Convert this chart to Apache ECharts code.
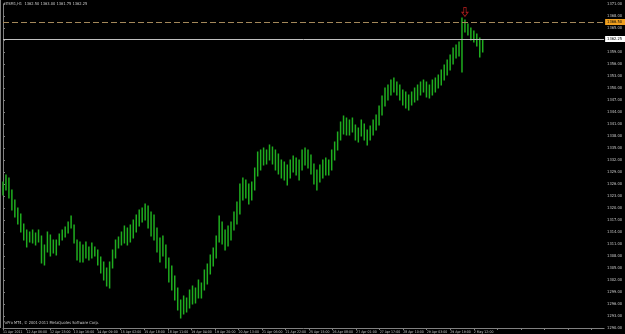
<!DOCTYPE html>
<html>
<head>
<meta charset="utf-8">
<script src="https://cdn.jsdelivr.net/npm/echarts@6/dist/echarts.min.js"></script>
<style>
html,body{margin:0;padding:0;background:#000;}
#c{width:625px;height:334px;}
</style>
</head>
<body>
<div id="c"></div>
<script>
// ---- data ----
const symbolTitle = "#ESM1,H1  1362.50 1363.00 1361.75 1362.25";
const copyrightText = "FxPro MT4, \u00A9 2001-2011 MetaQuotes Software Corp.";

const barHigh = [
  1326.5,1328.25,1327.5,1324.5,1322,1320,1318.5,1316,1314.5,1314,
  1314.5,1313.75,1314.5,1313,1310.75,1314,1313.25,1312,1312,1313.5,
  1314.5,1315.25,1316.5,1318,1315.75,1312,1311.5,1310.75,1311.5,1310.25,
  1311.25,1310.25,1309.5,1307.75,1306.5,1305,1306.5,1309.5,1312,1312.75,
  1314,1315.5,1315,1315.75,1317,1318.25,1319.5,1320,1321,1320.5,
  1319,1318.25,1315,1312.5,1313,1310.75,1307.5,1305.5,1303,1300,
  1297,1298,1297.5,1299.5,1300.5,1300,1302,1301.25,1304.5,1306,
  1308.25,1310,1313,1318,1316.5,1314.5,1315.5,1316.5,1319,1321.5,
  1326,1327.5,1327,1326,1326.5,1330,1334,1334.5,1335,1334.5,
  1335.75,1335.25,1334.5,1333.5,1332,1331.5,1330.75,1332,1333,1332.5,
  1332,1334.5,1335,1334.5,1333.25,1331,1329.5,1330.75,1332,1332.5,
  1332,1334.5,1336.5,1339,1341.5,1343,1342.5,1342,1342.5,1340.75,
  1340,1342,1341,1339.5,1340.5,1342,1343.25,1345.5,1348,1350,
  1350.75,1352,1352.5,1351.5,1350.75,1349.5,1349,1348.25,1349,1350,
  1350.75,1351.5,1352,1351.5,1350.75,1352,1352.5,1353.25,1354.5,1355.75,
  1357,1358.25,1360,1360.75,1361.5,1367.5,1367,1366,1365,1364.25,
  1363.5,1362.5,1362
];
const barLow = [
  1323.25,1324.5,1322.5,1319.5,1317.75,1316,1314,1312,1310.25,1311.5,
  1311.25,1310.75,1311.5,1306.25,1305.75,1309,1308,1308.75,1308.25,1310.75,
  1312,1312.75,1313.75,1315,1311.25,1307,1306.5,1306.5,1307.5,1307,
  1307.5,1308,1305.75,1303.75,1302,1300.5,1300,1305,1307.5,1310,
  1310.75,1311.25,1310.75,1311.5,1312.5,1314,1315.5,1316.5,1317,1315,
  1313,1312,1309,1306.5,1308,1305,1301.5,1299.5,1297,1294.5,
  1292.5,1293.5,1294,1295,1296,1296.25,1297.5,1297.5,1299.5,1301,
  1303.5,1305.5,1307.5,1311.5,1311,1309.5,1310.5,1312,1314.5,1316,
  1318.5,1322,1322.5,1321,1322,1324.5,1328,1329.5,1330.75,1331,
  1332,1331,1329.5,1328.5,1327.5,1327,1325.75,1327.5,1329,1328.25,
  1327,1329.5,1330.75,1330,1328.5,1326,1324.5,1326.5,1327.5,1328.25,
  1328.25,1329.5,1332,1334.5,1337,1338.5,1338.25,1338.25,1339,1337,
  1336.5,1338,1337,1335.75,1337,1338.25,1339.5,1340.75,1343.25,1345.5,
  1347,1348.25,1349,1348.25,1347,1345.75,1345,1344.5,1345.75,1346.5,
  1347,1348.25,1349,1347.75,1347.5,1348.25,1349,1350,1350.75,1352,
  1353.25,1354.5,1356,1357.5,1358,1354,1364,1363.25,1362,1361.5,
  1360.5,1357.75,1359
];
const tickLabels = [
  "11 Apr 2011","12 Apr 06:00","12 Apr 23:00","13 Apr 16:00","14 Apr 09:00",
  "15 Apr 02:00","15 Apr 18:00","18 Apr 11:00","19 Apr 04:00","19 Apr 20:00",
  "20 Apr 13:00","21 Apr 06:00","21 Apr 22:00","25 Apr 15:00","26 Apr 08:00",
  "27 Apr 01:00","27 Apr 17:00","28 Apr 10:00","29 Apr 03:00","29 Apr 19:00",
  "2 May 12:00"
];
const bidPrice = 1362.25;
const levelPrice = 1366.5;
const arrowBar = 156;
const arrowPrice = 1369;

// ---- chart ----
const labelStep = 7.95;
const seriesData = barHigh.map((h, i) => [i, barLow[i], h]);

const chart = echarts.init(document.getElementById('c'), null, {renderer: 'canvas'});
const axisGray = '#808080';
const textGray = '#c8c8c8';
const fontFam = "'Liberation Sans Narrow', 'DejaVu Sans Condensed', 'Liberation Sans', sans-serif";

chart.setOption({
  animation: false,
  backgroundColor: '#000000',
  grid: {left: 1, right: 15, top: 4, bottom: 6, containLabel: false},
  xAxis: {
    type: 'value', min: 0, max: 203, interval: labelStep,
    splitLine: {show: false},
    axisLine: {show: true, lineStyle: {color: axisGray, width: 1}},
    axisTick: {show: true, length: 2, lineStyle: {color: axisGray}},
    axisLabel: {
      show: true, color: textGray, fontSize: 3.5, fontFamily: fontFam,
      align: 'left', margin: 2, showMaxLabel: false, hideOverlap: false,
      formatter: v => {
        const idx = Math.round(v / labelStep);
        if (Math.abs(v - idx * labelStep) > 0.01) return '';
        return tickLabels[idx] || '';
      }
    }
  },
  yAxis: {
    type: 'value', position: 'right', min: 1290, max: 1371, interval: 3,
    splitLine: {show: false},
    axisLine: {show: true, lineStyle: {color: axisGray, width: 1}},
    axisTick: {show: true, length: 2, lineStyle: {color: axisGray}},
    axisLabel: {
      show: true, color: textGray, fontSize: 4, fontFamily: fontFam,
      align: 'left', margin: 3,
      formatter: v => v.toFixed(2)
    }
  },
  series: [
    {
      type: 'custom',
      data: seriesData,
      encode: {x: 0, y: [1, 2]},
      renderItem: (params, api) => {
        const x = api.value(0);
        const p1 = api.coord([x, api.value(1)]);
        const p2 = api.coord([x, api.value(2)]);
        return {
          type: 'line',
          shape: {x1: p1[0], y1: p1[1] + 0.5, x2: p2[0], y2: p2[1] - 0.5},
          style: {stroke: '#1fae1f', lineWidth: 1.5}
        };
      },
      z: 3
    },
    {
      type: 'line', data: [], symbol: 'none', silent: true,
      markLine: {
        silent: true, symbol: 'none', animation: false,
        data: [
          {
            yAxis: levelPrice,
            lineStyle: {color: '#a4885a', type: [6, 3], width: 1},
            label: {
              show: true, position: 'end', distance: 1,
              formatter: () => levelPrice.toFixed(2),
              color: '#000', backgroundColor: '#f0a020',
              fontSize: 4, fontFamily: fontFam, padding: [1, 3, 1, 2]
            }
          },
          {
            yAxis: bidPrice,
            lineStyle: {color: '#c0c0c0', type: 'solid', width: 1},
            label: {
              show: true, position: 'end', distance: 1,
              formatter: () => bidPrice.toFixed(2),
              color: '#000', backgroundColor: '#ffffff',
              fontSize: 4, fontFamily: fontFam, padding: [1, 3, 1, 2]
            }
          }
        ]
      },
      z: 2
    },
    {
      type: 'scatter',
      data: [[arrowBar, arrowPrice]],
      symbol: 'path://M3,0 L7,0 L7,6 L10,6 L5,11 L0,6 L3,6 Z',
      symbolSize: [6, 9],
      itemStyle: {color: 'rgba(0,0,0,0)', borderColor: '#c02020', borderWidth: 1},
      silent: true,
      z: 4
    }
  ],
  graphic: [
    {
      type: 'line', shape: {x1: 0.5, y1: 0, x2: 0.5, y2: 328},
      style: {stroke: axisGray, lineWidth: 1}, silent: true
    },
    {
      type: 'text', left: 3, top: 2,
      style: {text: symbolTitle, fill: textGray, fontSize: 4, fontFamily: fontFam}
    },
    {
      type: 'text', left: 3, top: 321,
      style: {text: copyrightText, fill: textGray, fontSize: 4, fontFamily: fontFam}
    }
  ]
});
</script>
</body>
</html>
